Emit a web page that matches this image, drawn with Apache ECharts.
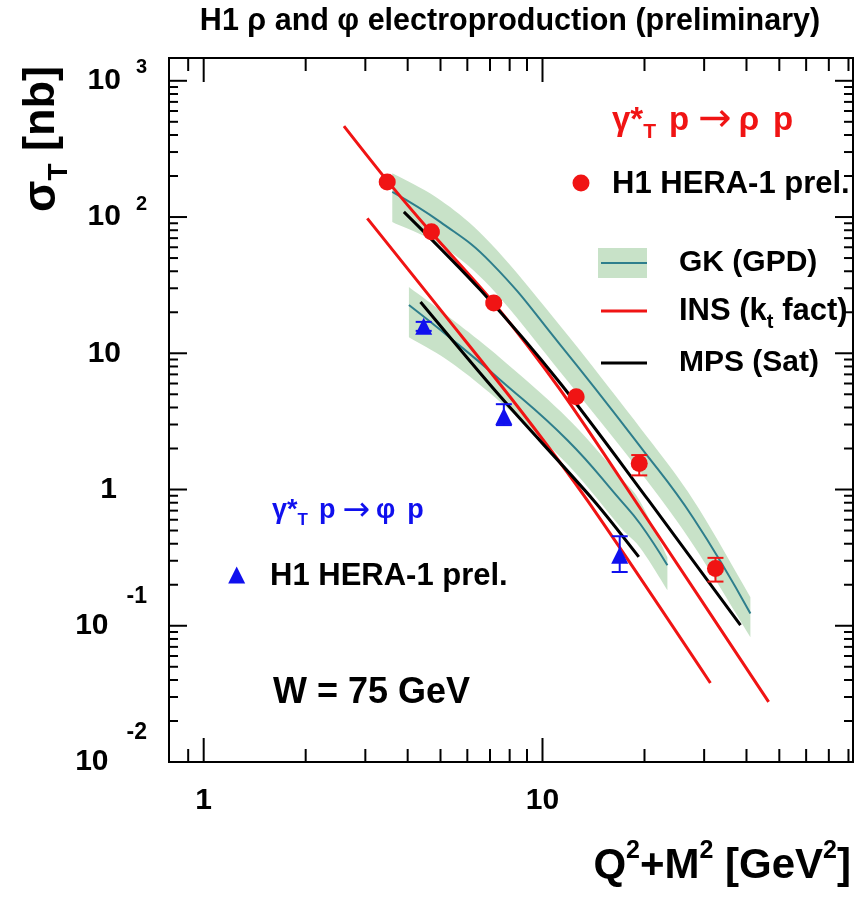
<!DOCTYPE html>
<html>
<head>
<meta charset="utf-8">
<script src="https://cdn.jsdelivr.net/npm/echarts@6/dist/echarts.min.js"></script>
<style>
  html, body { margin: 0; padding: 0; background: #fff; }
  #chart { width: 863px; height: 898px; }
</style>
</head>
<body>
<div id="chart"></div>
<script>
const FONT = '"Liberation Sans", Arial, Helvetica, sans-serif';
const SYM = '"DejaVu Sans", "Liberation Sans", sans-serif';

// Axis ranges: Q^2+M^2 [GeV^2] and sigma_T [nb]
const xRange = [0.79, 82.5];
const yRange = [0.01, 1470];
const xMajorTicks = [1, 10];
const xMinorTicks = [0.9, 2, 3, 4, 5, 6, 7, 8, 9, 20, 30, 40, 50, 60, 70, 80];
const yMajorTicks = [0.01, 0.1, 1, 10, 100, 1000];
const yMinorTicks = [0.02, 0.03, 0.04, 0.05, 0.06, 0.07, 0.08, 0.09,
                     0.2, 0.3, 0.4, 0.5, 0.6, 0.7, 0.8, 0.9,
                     2, 3, 4, 5, 6, 7, 8, 9,
                     20, 30, 40, 50, 60, 70, 80, 90,
                     200, 300, 400, 500, 600, 700, 800, 900];

// H1 rho measurements
const rhoX = [3.48, 4.70, 7.18, 12.57, 19.3, 32.4];
const rhoY = [181, 77.9, 23.4, 4.8, 1.55, 0.263];
const rhoErrDown = [5, 2.2, 0.7, 0.15, 0.28, 0.052];
const rhoErrUp = [5, 2.2, 0.7, 0.15, 0.24, 0.052];

// H1 phi measurements
const phiX = [4.46, 7.69, 16.9];
const phiY = [15.8, 3.45, 0.329];
const phiErrDown = [1.2, 0.48, 0.081];
const phiErrUp = [1.2, 0.78, 0.125];

// GK (GPD) predictions with uncertainty bands
const gkRhoX = [3.603, 5.00, 7.02, 11.30, 19.46, 27.89, 41.08];
const gkRhoY = [153.1, 91.8, 46.7, 11.47, 2.055, 0.616, 0.123];
const gkRhoHi = [210, 133, 64.3, 15.8, 2.82, 0.835, 0.162];
const gkRhoLo = [91.8, 62.2, 30.6, 7.26, 1.34, 0.39, 0.0823];

const gkPhiX = [4.034, 5.353, 7.52, 11.85, 16.99, 19.46, 23.37];
const gkPhiY = [22.6, 12.91, 6.35, 2.30, 0.835, 0.556, 0.278];
const gkPhiHi = [30.6, 18.1, 9.20, 3.34, 1.23, 0.807, 0.318];
const gkPhiLo = [13.1, 8.60, 4.37, 1.53, 0.529, 0.371, 0.182];

// INS (kt factorisation) predictions
const insRhoX = [2.594, 3.48, 4.674, 7.18, 11.30, 19.86, 46.5];
const insRhoY = [465, 185, 77.9, 23.4, 5.36, 0.670, 0.0276];
const insPhiX = [3.04, 5.105, 8.61, 13.55, 31.3];
const insPhiY = [97.7, 19.54, 3.82, 0.835, 0.038];

// MPS (saturation) predictions
const mpsRhoX = [3.898, 6.56, 11.30, 20.54, 38.4];
const mpsRhoY = [109.2, 29.1, 6.00, 0.835, 0.1009];
const mpsPhiX = [4.365, 7.52, 14.14, 19.24];
const mpsPhiY = [23.8, 4.79, 0.835, 0.320];

const RED = '#f01414';
const BLUE = '#1010ee';
const TEAL = '#2e7e8c';
const BAND = '#c8e2c8';

const zip = (xs, ys) => xs.map((x, i) => [x, ys[i]]);

// Catmull-Rom path through pixel points, so band edges bend smoothly
function smoothPath(pts, steps) {
  const out = [];
  for (let i = 0; i < pts.length - 1; i++) {
    const p0 = pts[i - 1] || pts[i], p1 = pts[i], p2 = pts[i + 1], p3 = pts[i + 2] || pts[i + 1];
    for (let s = 0; s < steps; s++) {
      const t = s / steps, t2 = t * t, t3 = t2 * t;
      out.push([0, 1].map(k => 0.5 * (2 * p1[k] + (-p0[k] + p2[k]) * t +
        (2 * p0[k] - 5 * p1[k] + 4 * p2[k] - p3[k]) * t2 + (-p0[k] + 3 * p1[k] - 3 * p2[k] + p3[k]) * t3)));
    }
  }
  out.push(pts[pts.length - 1]);
  return out;
}

function bandSeries(xs, lo, hi) {
  return {
    type: 'custom',
    z: 1,
    silent: true,
    data: xs.map((x, i) => [x, lo[i], hi[i]]),
    renderItem: function (params, api) {
      if (params.dataIndex !== 0) return null;
      const top = smoothPath(xs.map((x, i) => api.coord([x, hi[i]])), 10);
      const bot = smoothPath(xs.map((x, i) => api.coord([x, lo[i]])), 10).reverse();
      return { type: 'polygon', shape: { points: top.concat(bot) }, style: { fill: BAND } };
    }
  };
}

function lineSeries(xs, ys, color, width, smooth) {
  return {
    type: 'line', z: 2, silent: true, showSymbol: false, smooth: smooth || false,
    data: zip(xs, ys),
    lineStyle: { color: color, width: width }
  };
}

function errorSeries(xs, ys, down, up, color) {
  return {
    type: 'custom', z: 3, silent: true,
    data: xs.map((x, i) => [x, ys[i] - down[i], ys[i] + up[i]]),
    renderItem: function (params, api) {
      const lo = api.coord([api.value(0), api.value(1)]);
      const hi = api.coord([api.value(0), api.value(2)]);
      const s = { stroke: color, lineWidth: 2 };
      return { type: 'group', children: [
        { type: 'line', shape: { x1: lo[0], y1: lo[1], x2: hi[0], y2: hi[1] }, style: s },
        { type: 'line', shape: { x1: lo[0] - 8, y1: lo[1], x2: lo[0] + 8, y2: lo[1] }, style: s },
        { type: 'line', shape: { x1: hi[0] - 8, y1: hi[1], x2: hi[0] + 8, y2: hi[1] }, style: s }
      ]};
    }
  };
}

function xTickSeries(values, len) {
  return {
    type: 'custom', z: 5, silent: true,
    data: values.map(v => [v, yRange[0]]),
    renderItem: function (params, api) {
      const v = api.value(0);
      const b = api.coord([v, yRange[0]]);
      const t = api.coord([v, yRange[1]]);
      const s = { stroke: '#000', lineWidth: 2 };
      return { type: 'group', children: [
        { type: 'line', shape: { x1: b[0], y1: b[1], x2: b[0], y2: b[1] - len }, style: s },
        { type: 'line', shape: { x1: t[0], y1: t[1], x2: t[0], y2: t[1] + len }, style: s }
      ]};
    }
  };
}

function yTickSeries(values, len) {
  return {
    type: 'custom', z: 5, silent: true,
    data: values.map(v => [xRange[0], v]),
    renderItem: function (params, api) {
      const v = api.value(1);
      const l = api.coord([xRange[0], v]);
      const r = api.coord([xRange[1], v]);
      const s = { stroke: '#000', lineWidth: 2 };
      return { type: 'group', children: [
        { type: 'line', shape: { x1: l[0], y1: l[1], x2: l[0] + len, y2: l[1] }, style: s },
        { type: 'line', shape: { x1: r[0], y1: r[1], x2: r[0] - len, y2: r[1] }, style: s }
      ]};
    }
  };
}

function isDecade(v) {
  const l = Math.log10(v);
  return Math.abs(l - Math.round(l)) < 1e-6;
}

const boldText = (size, color) => ({ fontFamily: FONT, fontWeight: 'bold', fontSize: size, color: color || '#000' });

// "gamma*_T p -> V p" reaction label, spacing set per glyph
function reactionText(meson, color, scale) {
  const f = n => Math.round(n * scale);
  return {
    text: '{g|\u03b3*}{t|T}{p|p}{a|\u2192}{r|' + meson + '}{q|p}',
    align: 'left', verticalAlign: 'middle',
    rich: {
      g: { font: 'bold ' + f(33) + 'px ' + FONT, fill: color },
      t: { font: 'bold ' + f(21) + 'px ' + FONT, fill: color, padding: [f(22), 0, 0, 0] },
      p: { font: 'bold ' + f(33) + 'px ' + FONT, fill: color, padding: [0, 0, 0, f(13)] },
      a: { font: f(40) + 'px ' + SYM, fill: color, padding: [0, 0, 0, f(9)] },
      r: { font: 'bold ' + f(33) + 'px ' + FONT, fill: color, padding: [0, 0, 0, f(7)] },
      q: { font: 'bold ' + f(33) + 'px ' + FONT, fill: color, padding: [0, 0, 0, f(14)] }
    }
  };
}

const option = {
  animation: false,
  backgroundColor: '#fff',
  grid: { left: 169, right: 10, top: 58, bottom: 136, show: true, borderColor: '#000', borderWidth: 2, outerBoundsMode: 'none' },
  xAxis: {
    type: 'log', logBase: 10, min: xRange[0], max: xRange[1],
    axisLine: { show: false }, axisTick: { show: false }, splitLine: { show: false },
    axisLabel: {
      interval: 0, margin: 24,
      fontFamily: FONT, fontWeight: 'bold', fontSize: 30, color: '#000',
      formatter: function (v) { return isDecade(v) ? String(Math.round(v)) : ''; }
    }
  },
  yAxis: {
    type: 'log', logBase: 10, min: yRange[0], max: yRange[1],
    axisLine: { show: false }, axisTick: { show: false }, splitLine: { show: false },
    axisLabel: {
      interval: 0, margin: 22,
      fontFamily: FONT, fontWeight: 'bold', fontSize: 30, color: '#000',
      formatter: function (v) {
        if (!isDecade(v)) return '';
        const e = Math.round(Math.log10(v));
        if (e === 0) return '{one|1}';
        if (e === 1) return '{ten|10}';
        if (e > 0) return '{m|10}{ep|' + e + '}';
        return '{m|10}{en|' + e + '}';
      },
      rich: {
        m: boldText(30),
        ep: Object.assign(boldText(20), { padding: [0, 0, 26, 15] }),
        en: Object.assign(boldText(23), { padding: [0, 0, 58, 18] }),
        ten: Object.assign(boldText(30), { padding: [0, 26, 0, 0] }),
        one: Object.assign(boldText(30), { padding: [0, 30, 0, 0] })
      }
    }
  },
  series: [
    bandSeries(gkRhoX, gkRhoLo, gkRhoHi),
    bandSeries(gkPhiX, gkPhiLo, gkPhiHi),
    lineSeries(gkRhoX, gkRhoY, TEAL, 2, 0.45),
    lineSeries(gkPhiX, gkPhiY, TEAL, 2, 0.45),
    lineSeries(insRhoX, insRhoY, RED, 3, 0.3),
    lineSeries(insPhiX, insPhiY, RED, 3, 0.3),
    lineSeries(mpsRhoX, mpsRhoY, '#000', 3, 0.3),
    lineSeries(mpsPhiX, mpsPhiY, '#000', 3, 0.3),
    errorSeries(rhoX, rhoY, rhoErrDown, rhoErrUp, RED),
    errorSeries(phiX, phiY, phiErrDown, phiErrUp, BLUE),
    {
      type: 'scatter', z: 4, silent: true, symbol: 'circle', symbolSize: 17,
      data: zip(rhoX, rhoY), itemStyle: { color: RED, opacity: 1 }
    },
    {
      type: 'scatter', z: 4, silent: true, symbol: 'triangle', symbolSize: 17,
      data: zip(phiX, phiY), itemStyle: { color: BLUE, opacity: 1 }
    },
    xTickSeries(xMajorTicks, 24),
    xTickSeries(xMinorTicks, 13),
    yTickSeries(yMajorTicks, 18),
    yTickSeries(yMinorTicks, 9)
  ],
  graphic: [
    // title
    { type: 'text', x: 510, y: 22, style: { text: 'H1 \u03c1 and \u03c6 electroproduction (preliminary)', font: 'bold 30.5px ' + FONT, fill: '#000', align: 'center', verticalAlign: 'middle' } },
    // y axis title
    { type: 'text', x: 42, y: 139, rotation: Math.PI / 2,
      style: { text: '{s|\u03c3}{t|T}{n| [nb]}', align: 'center', verticalAlign: 'middle', fill: '#000',
        rich: {
          s: { font: 'bold 46px ' + FONT, fill: '#000' },
          t: { font: 'bold 28px ' + FONT, fill: '#000', padding: [34, 0, 0, 0] },
          n: { font: 'bold 45px ' + FONT, fill: '#000' }
        } } },
    // x axis title
    { type: 'text', x: 851, y: 866,
      style: { text: '{b|Q}{s|2}{b|+M}{s|2}{b| [GeV}{s|2}{b|]}', align: 'right', verticalAlign: 'middle', fill: '#000',
        rich: {
          b: { font: 'bold 42px ' + FONT, fill: '#000' },
          s: { font: 'bold 25px ' + FONT, fill: '#000', padding: [0, 0, 30, 0] }
        } } },
    // rho legend block
    { type: 'text', x: 612, y: 121, style: reactionText('\u03c1', RED, 1) },
    { type: 'circle', shape: { cx: 581, cy: 183, r: 8.5 }, style: { fill: RED } },
    { type: 'text', x: 612, y: 184, style: { text: 'H1 HERA-1 prel.', font: 'bold 31px ' + FONT, fill: '#000', align: 'left', verticalAlign: 'middle' } },
    { type: 'rect', shape: { x: 598, y: 248, width: 49, height: 30 }, style: { fill: BAND } },
    { type: 'line', shape: { x1: 601, y1: 263, x2: 647, y2: 263 }, style: { stroke: TEAL, lineWidth: 2 } },
    { type: 'text', x: 679, y: 263, style: { text: 'GK (GPD)', font: 'bold 30px ' + FONT, fill: '#000', align: 'left', verticalAlign: 'middle' } },
    { type: 'line', shape: { x1: 601, y1: 311, x2: 647, y2: 311 }, style: { stroke: RED, lineWidth: 3 } },
    { type: 'text', x: 679, y: 311,
      style: { text: '{b|INS (k}{t|t}{b| fact)}', align: 'left', verticalAlign: 'middle',
        rich: {
          b: { font: 'bold 31px ' + FONT, fill: '#000' },
          t: { font: 'bold 20px ' + FONT, fill: '#000', padding: [22, 0, 0, 0] }
        } } },
    { type: 'line', shape: { x1: 601, y1: 363, x2: 647, y2: 363 }, style: { stroke: '#000', lineWidth: 3 } },
    { type: 'text', x: 679, y: 363, style: { text: 'MPS (Sat)', font: 'bold 30px ' + FONT, fill: '#000', align: 'left', verticalAlign: 'middle' } },
    // phi legend block
    { type: 'text', x: 272, y: 511, style: reactionText('\u03c6', BLUE, 0.83) },
    { type: 'polygon', shape: { points: [[236.7, 566.5], [228.2, 583.5], [245.2, 583.5]] }, style: { fill: BLUE } },
    { type: 'text', x: 270, y: 576, style: { text: 'H1 HERA-1 prel.', font: 'bold 31px ' + FONT, fill: '#000', align: 'left', verticalAlign: 'middle' } },
    { type: 'text', x: 273, y: 693, style: { text: 'W = 75 GeV', font: 'bold 36px ' + FONT, fill: '#000', align: 'left', verticalAlign: 'middle' } }
  ]
};

const chart = echarts.init(document.getElementById('chart'), null, { renderer: 'canvas' });
chart.setOption(option);
</script>
</body>
</html>
